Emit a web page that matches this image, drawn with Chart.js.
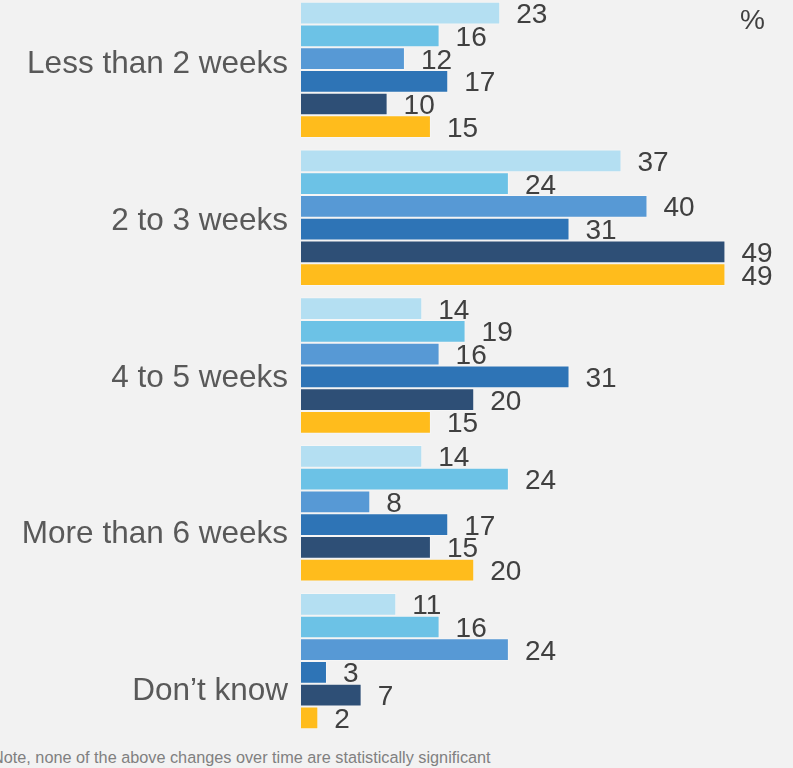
<!DOCTYPE html>
<html>
<head>
<meta charset="utf-8">
<script src="https://cdn.jsdelivr.net/npm/chart.js@4.4.1/dist/chart.umd.min.js"></script>
<style>
  html, body { margin: 0; padding: 0; background: #f2f2f2; overflow: hidden; }
  body { width: 793px; height: 768px; position: relative; font-family: "Liberation Sans", Arial, sans-serif; }
  #chart-box { position: absolute; left: 0; top: -4px; width: 793px; height: 739px; }
  #pct { position: absolute; left: 740px; top: 6px; font-size: 28px; line-height: 28px; color: #404040; }
  #note { position: absolute; left: -8px; top: 749px; font-size: 16.25px; line-height: 16px; color: #808080; white-space: nowrap; }
</style>
</head>
<body>
<div id="chart-box"><canvas id="chart"></canvas></div>
<div id="pct">%</div>
<div id="note">Note, none of the above changes over time are statistically significant</div>
<script>
const categories = ["Less than 2 weeks", "2 to 3 weeks", "4 to 5 weeks", "More than 6 weeks", "Don\u2019t know"];
const seriesNames = ["Series 1", "Series 2", "Series 3", "Series 4", "Series 5", "Series 6"];
const series1 = [23, 37, 14, 14, 11];
const series2 = [16, 24, 19, 24, 16];
const series3 = [12, 40, 16, 8, 24];
const series4 = [17, 31, 31, 17, 3];
const series5 = [10, 49, 20, 15, 7];
const series6 = [15, 49, 15, 20, 2];
const colors = ["#b4dff2", "#6cc2e6", "#5799d5", "#2e74b6", "#2e4f76", "#ffbc1c"];

const FONT = '"Liberation Sans", Arial, sans-serif';

// value labels and category names, drawn under the bars
const labelPlugin = {
  id: "barLabels",
  beforeDatasetsDraw(chart) {
    const ctx = chart.ctx;
    const yScale = chart.scales.y;
    ctx.save();
    ctx.font = "28px " + FONT;
    ctx.fillStyle = "#404040";
    ctx.textAlign = "left";
    ctx.textBaseline = "alphabetic";
    chart.data.datasets.forEach((ds, i) => {
      chart.getDatasetMeta(i).data.forEach((bar, j) => {
        ctx.fillText(String(ds.data[j]), bar.x + 16, bar.y + 10);
      });
    });

    ctx.font = "31.5px " + FONT;
    ctx.fillStyle = "#595959";
    ctx.textAlign = "right";
    categories.forEach((c, i) => {
      ctx.fillText(c, chart.chartArea.left - 13, yScale.getPixelForValue(i) + 3 + 9 * i);
    });
    ctx.restore();
  },
};

const allSeries = [series1, series2, series3, series4, series5, series6];

new Chart(document.getElementById("chart"), {
  type: "bar",
  data: {
    labels: categories,
    datasets: allSeries.map((d, i) => ({
      label: seriesNames[i],
      data: d,
      backgroundColor: colors[i],
      borderColor: "rgba(255,255,255,0.3)",
      borderWidth: 1,
      barPercentage: 1,
      categoryPercentage: 0.923,
    })),
  },
  options: {
    indexAxis: "y",
    responsive: true,
    maintainAspectRatio: false,
    animation: false,
    layout: { padding: { left: 301, right: 0, top: 0, bottom: 0 } },
    scales: {
      x: { display: false, min: 0, max: 56.8 },
      y: { display: false },
    },
    plugins: {
      legend: { display: false },
      tooltip: { enabled: false },
    },
  },
  plugins: [labelPlugin],
});
</script>
</body>
</html>
